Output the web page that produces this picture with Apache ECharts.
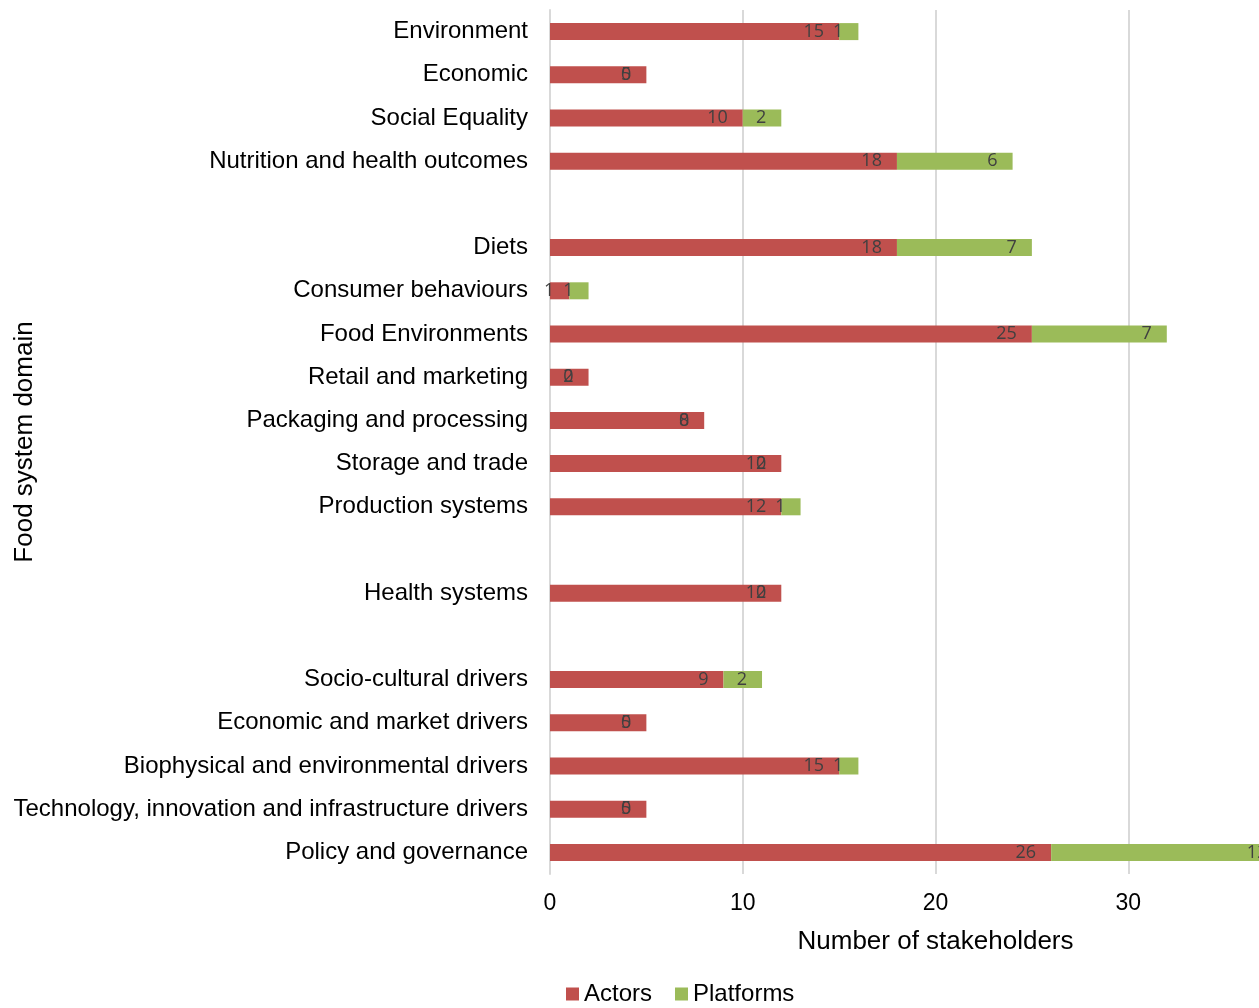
<!DOCTYPE html>
<html>
<head>
<meta charset="utf-8">
<script src="https://cdn.jsdelivr.net/npm/echarts@6/dist/echarts.min.js"></script>
<style>
  html, body { margin: 0; padding: 0; background: #fff; }
  #chart { width: 1259px; height: 1008px; }
</style>
</head>
<body>
<div id="chart"></div>
<script>
// categories top to bottom, blank rows are the empty spacer rows
const domains = [
  'Environment', 'Economic', 'Social Equality', 'Nutrition and health outcomes', '',
  'Diets', 'Consumer behaviours', 'Food Environments', 'Retail and marketing',
  'Packaging and processing', 'Storage and trade', 'Production systems', ' ',
  'Health systems', '  ',
  'Socio-cultural drivers', 'Economic and market drivers',
  'Biophysical and environmental drivers',
  'Technology, innovation and infrastructure drivers', 'Policy and governance'
];
const actors = [15, 5, 10, 18, null, 18, 1, 25, 2, 8, 12, 12, null, 12, null, 9, 5, 15, 5, 26];
const platforms = [1, 0, 2, 6, null, 7, 1, 7, 0, 0, 0, 1, null, 0, null, 2, 0, 1, 0, 12];
const xTicks = { min: 0, max: 40, step: 10 };

const chart = echarts.init(document.getElementById('chart'));

const labelStyle = {
  show: true,
  position: 'insideRight',
  distance: 15,
  color: '#404040',
  fontFamily: 'Open Sans',
  fontSize: 18
};

const option = {
  animation: false,
  textStyle: { fontFamily: 'Liberation Sans' },
  // plot runs past the right edge, as in the original (40 is cut off)
  grid: { left: 550, width: 771, top: 10, bottom: 134, outerBoundsMode: 'none' },
  legend: {
    bottom: -3,
    left: 561,
    itemWidth: 13,
    itemHeight: 13,
    itemGap: 23,
    icon: 'rect',
    textStyle: { fontSize: 24, color: '#000', fontFamily: 'Liberation Sans' },
    data: ['Actors', 'Platforms']
  },
  xAxis: {
    type: 'value',
    min: xTicks.min,
    max: xTicks.max,
    interval: xTicks.step,
    name: 'Number of stakeholders',
    nameLocation: 'middle',
    nameGap: 55,
    nameTextStyle: { fontSize: 26, color: '#000' },
    axisLine: { show: false },
    axisTick: { show: false },
    axisLabel: { fontSize: 23, color: '#000', margin: 18 },
    splitLine: { lineStyle: { color: '#d9d9d9', width: 2 } }
  },
  yAxis: {
    type: 'category',
    inverse: true,
    data: domains,
    name: 'Food system domain',
    nameLocation: 'middle',
    nameGap: 512,
    nameMoveOverlap: false,
    nameTextStyle: { fontSize: 26, color: '#000' },
    axisTick: { show: false },
    axisLine: { lineStyle: { color: '#d9d9d9', width: 2 } },
    axisLabel: { fontSize: 24, color: '#000', margin: 22, interval: 0 }
  },
  series: [
    {
      name: 'Actors',
      type: 'bar',
      stack: 'total',
      barWidth: 17,
      itemStyle: { color: '#C0504D' },
      label: labelStyle,
      data: actors
    },
    {
      name: 'Platforms',
      type: 'bar',
      stack: 'total',
      barWidth: 17,
      itemStyle: { color: '#9BBB59' },
      label: labelStyle,
      data: platforms
    }
  ]
};

chart.setOption(option);
window.addEventListener('resize', () => chart.resize());
</script>
</body>
</html>
